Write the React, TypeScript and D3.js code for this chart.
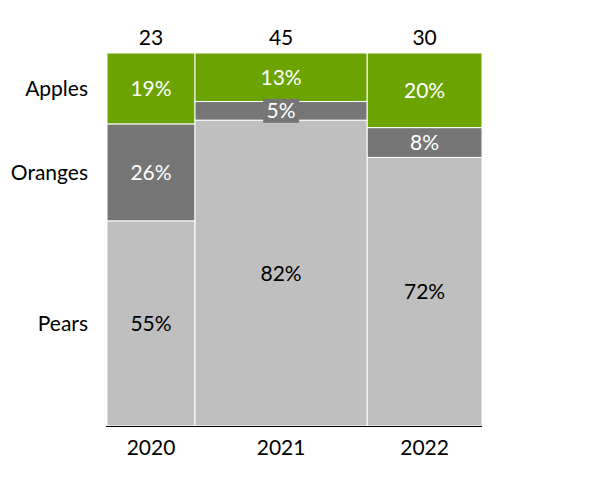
import React from "react";
import * as d3 from "d3";

const years = ["2020", "2021", "2022"];
const totals = [23, 45, 30];
const series = ["Pears", "Oranges", "Apples"];
const pears = [55, 82, 72];
const oranges = [26, 5, 8];
const apples = [19, 13, 20];

const colors: Record<string, string> = {
  Pears: "#bfbfbf",
  Oranges: "#767676",
  Apples: "#6ba300",
};
const textColors: Record<string, string> = {
  Pears: "#000000",
  Oranges: "#ffffff",
  Apples: "#ffffff",
};

const width = 590;
const height = 482;
const margin = { top: 53, right: 108, bottom: 56, left: 107 };
const font = "Lato, Carlito, Calibri, sans-serif";

export default function App() {
  const values: Record<string, number[]> = { Pears: pears, Oranges: oranges, Apples: apples };
  const grand = d3.sum(totals);
  const x = d3
    .scaleLinear()
    .domain([0, grand])
    .range([margin.left, width - margin.right]);
  const y = d3
    .scaleLinear()
    .domain([0, 100])
    .range([height - margin.bottom, margin.top]);

  const starts = d3.cumsum([0, ...totals]);
  const cols = years.map((year, i) => {
    let acc = 0;
    const segs = series.map((s) => {
      const v = values[s][i];
      const seg = { s, v, y0: acc, y1: acc + v };
      acc += v;
      return seg;
    });
    return { year, total: totals[i], x0: x(starts[i]), x1: x(starts[i] + totals[i]), segs };
  });

  return (
    <svg width={width} height={height} style={{ display: "block", margin: "-8px" }} fontFamily={font}>
      <rect width={width} height={height} fill="#fff" />
      {cols.map((c) => (
        <g key={c.year}>
          {c.segs.map((seg) => (
            <rect
              key={seg.s}
              x={c.x0}
              width={c.x1 - c.x0}
              y={y(seg.y1)}
              height={y(seg.y0) - y(seg.y1)}
              fill={colors[seg.s]}
              stroke="#fff"
              strokeWidth={1}
            />
          ))}
          {c.segs.map((seg) => {
            const cx = (c.x0 + c.x1) / 2;
            const cy = y((seg.y0 + seg.y1) / 2);
            const small = y(seg.y0) - y(seg.y1) < 22;
            return (
              <g key={seg.s + "l"}>
                {small && (
                  <rect x={cx - 18} y={cy - 12} width={36} height={24} fill={colors[seg.s]} />
                )}
                <text
                  x={cx}
                  y={cy}
                  dy="0.36em"
                  textAnchor="middle"
                  fontSize={21}
                  fill={textColors[seg.s]}
                >
                  {seg.v}%
                </text>
              </g>
            );
          })}
          <text x={(c.x0 + c.x1) / 2} y={37} dy="0.36em" textAnchor="middle" fontSize={21} fill="#000">
            {c.total}
          </text>
          <text x={(c.x0 + c.x1) / 2} y={447} dy="0.36em" textAnchor="middle" fontSize={21} fill="#000">
            {c.year}
          </text>
        </g>
      ))}
      <line
        x1={margin.left - 1}
        x2={width - margin.right}
        y1={height - margin.bottom + 0.5}
        y2={height - margin.bottom + 0.5}
        stroke="#000"
        strokeWidth={1.2}
      />
      {cols[0].segs.map((seg) => (
        <text
          key={seg.s}
          x={margin.left - 19}
          y={y((seg.y0 + seg.y1) / 2)}
          dy="0.36em"
          textAnchor="end"
          fontSize={21}
          fill="#000"
        >
          {seg.s}
        </text>
      ))}
    </svg>
  );
}
